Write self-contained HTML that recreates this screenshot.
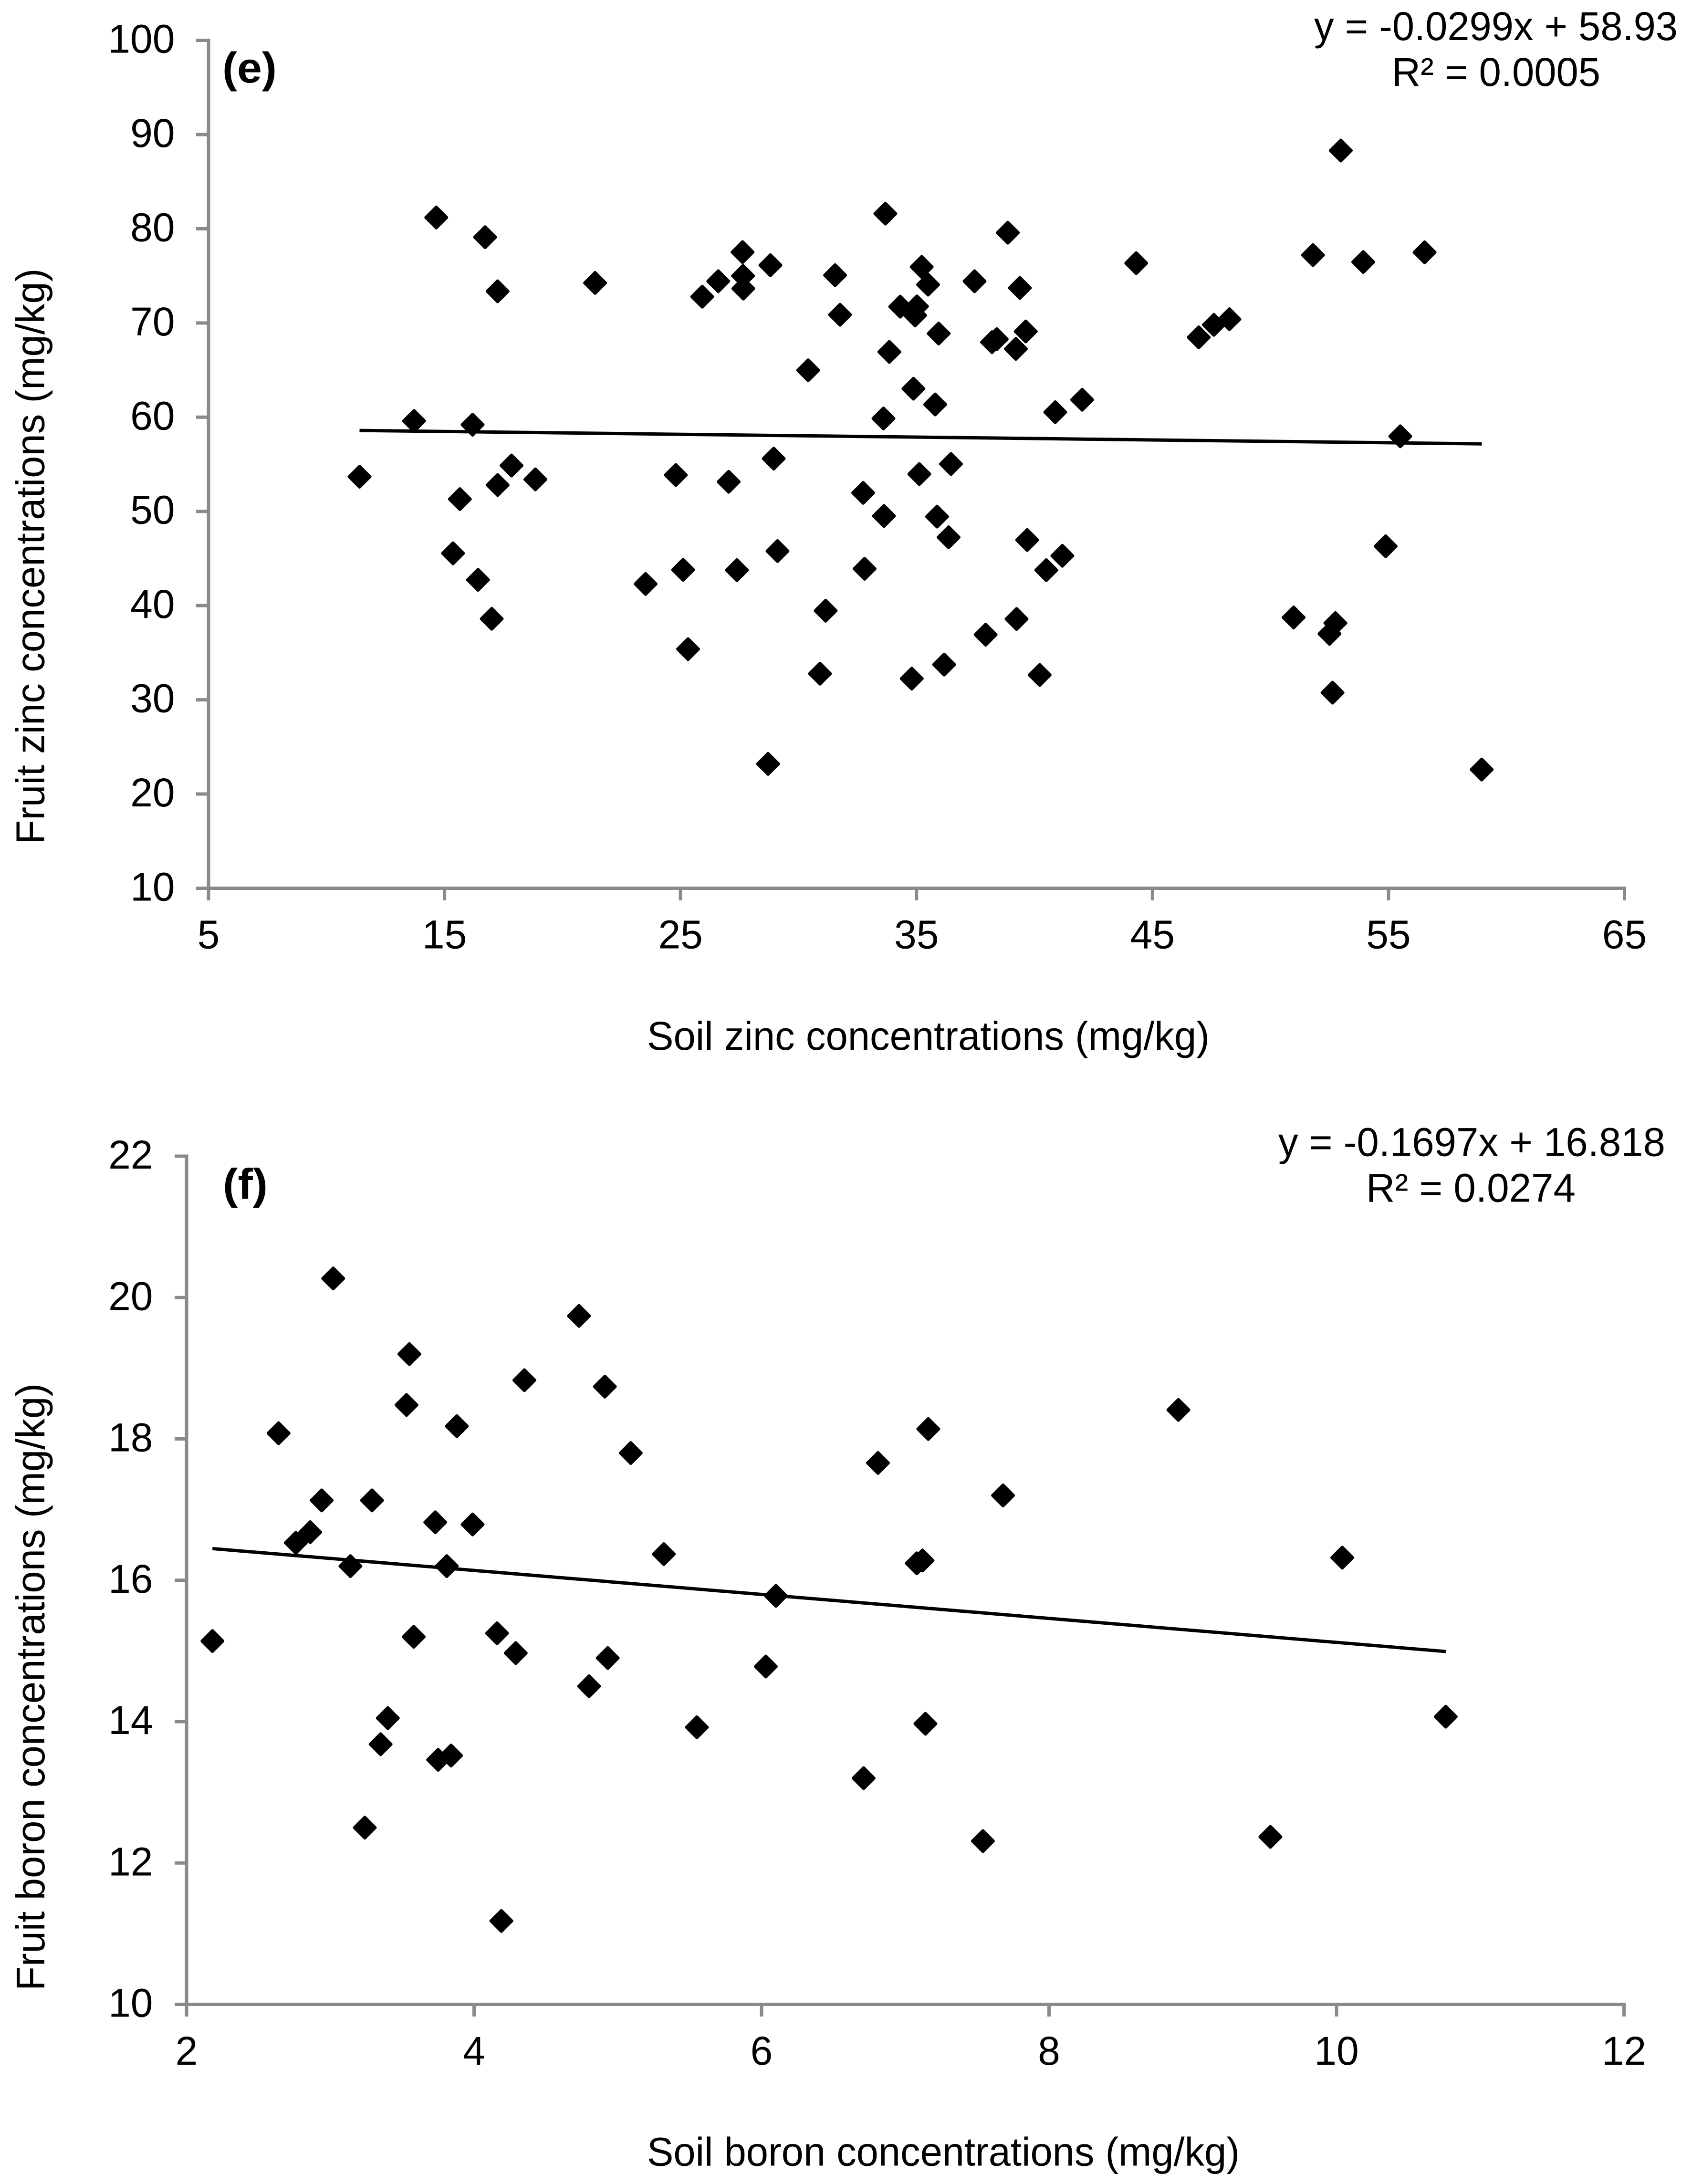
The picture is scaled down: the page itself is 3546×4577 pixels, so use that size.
<!DOCTYPE html>
<html lang="en">
<head>
<meta charset="utf-8">
<title>Soil vs fruit zinc and boron concentrations</title>
<style>
html,body{margin:0;padding:0;background:#fff;}
svg{display:block;}
text{font-family:"Liberation Sans",Arial,sans-serif;font-size:84px;fill:#000;}
.bold{font-weight:bold;font-size:90px;}
</style>
</head>
<body>
<svg id="figure" xmlns="http://www.w3.org/2000/svg" width="3546" height="4577" viewBox="0 0 3546 4577">
  <rect x="0" y="0" width="3546" height="4577" fill="#ffffff"/>
  <g id="panel-e">
    <g id="axes-e"></g>
    <g id="points-e"></g>
    <text class="bold" x="466" y="173" textLength="114" lengthAdjust="spacingAndGlyphs">(e)</text>
    <text x="2754" y="84" textLength="762" lengthAdjust="spacingAndGlyphs">y = -0.0299x + 58.93</text>
    <text x="2917" y="180" textLength="437" lengthAdjust="spacingAndGlyphs">R² = 0.0005</text>
    <text transform="translate(92.5 1769.5) rotate(-90)" textLength="1207" lengthAdjust="spacingAndGlyphs">Fruit zinc concentrations (mg/kg)</text>
    <text x="1356" y="2200" textLength="1179" lengthAdjust="spacingAndGlyphs">Soil zinc concentrations (mg/kg)</text>
  </g>
  <g id="panel-f">
    <g id="axes-f"></g>
    <g id="points-f"></g>
    <text class="bold" x="467" y="2512.5" textLength="94" lengthAdjust="spacingAndGlyphs">(f)</text>
    <text x="2679" y="2422.7" textLength="811" lengthAdjust="spacingAndGlyphs">y = -0.1697x + 16.818</text>
    <text x="2863" y="2518.7" textLength="439" lengthAdjust="spacingAndGlyphs">R² = 0.0274</text>
    <text transform="translate(93 4172) rotate(-90)" textLength="1273" lengthAdjust="spacingAndGlyphs">Fruit boron concentrations (mg/kg)</text>
    <text x="1356" y="4538.7" textLength="1242" lengthAdjust="spacingAndGlyphs">Soil boron concentrations (mg/kg)</text>
  </g>
</svg>
<script>
var zincXTicks = [5, 15, 25, 35, 45, 55, 65];
var zincYTicks = [10, 20, 30, 40, 50, 60, 70, 80, 90, 100];
var zincSoil = [33.68,38.87,27.63,28.81,44.31,35.22,31.55,26.60,27.65,27.66,25.92,35.49,37.46,39.38,31.76,34.31,35.02,34.94,35.94,39.63,38.2,38.4,39.21,33.85,30.41,34.87,35.79,40.88,42.02,33.60,24.80,27.04,28.95,32.74,35.12,36.46,33.62,35.87,36.36,39.69,41.18,40.50,25.11,27.39,29.11,32.80,31.15,25.32,30.91,34.80,36.17,37.93,39.24,40.22,11.40,13.71,14.65,16.72,17.25,21.38,16.19,15.65,17.25,17.84,18.85,15.36,16.42,17.0,23.52,46.96,47.6,48.26,51.8,53.93,56.53,52.98,55.5,54.88,50.98,52.5,52.75,52.63,58.95,28.71];
var zincFruit = [81.60,79.58,77.52,76.13,76.35,75.95,75.07,74.43,75.0,73.65,72.79,74.07,74.43,73.72,70.87,71.73,71.76,70.80,68.88,69.10,67.96,68.28,67.25,66.93,64.98,63.02,61.35,60.53,61.85,59.86,53.86,53.14,55.60,51.97,53.96,55.03,49.52,49.45,47.25,46.96,45.29,43.76,43.80,43.76,45.79,43.91,39.46,35.38,32.78,32.25,33.74,36.91,38.58,32.64,53.68,59.6,81.2,79.1,73.36,74.25,59.2,51.3,52.8,54.87,53.4,45.55,42.74,38.6,42.3,68.47,69.8,70.4,77.2,76.47,77.5,88.3,57.97,46.3,38.74,37.0,38.15,30.76,22.6,23.2];
var zincTrendSlope = -0.0299;
var zincTrendIntercept = 58.93;

var boronXTicks = [2, 4, 6, 8, 10, 12];
var boronYTicks = [10, 12, 14, 16, 18, 20, 22];
var boronSoil = [2.18,2.64,2.76,2.86,2.94,3.02,3.14,3.24,3.29,3.35,3.40,3.53,3.55,3.58,3.73,3.75,3.81,3.84,3.88,3.99,4.16,4.19,4.29,4.35,4.73,4.80,4.91,4.93,5.09,5.32,5.55,6.03,6.10,6.71,6.81,7.08,7.12,7.14,7.16,7.54,7.68,8.90,9.54,10.04,10.76];
var boronFruit = [15.14,18.08,16.53,16.68,17.13,20.27,16.2,12.5,17.13,13.68,14.05,18.48,19.2,15.2,16.82,13.46,16.2,13.52,18.18,16.79,15.25,11.18,14.97,18.83,19.74,14.5,18.74,14.9,17.8,16.37,13.92,14.78,15.78,13.2,17.66,16.24,16.28,13.97,18.14,12.31,17.2,18.41,12.37,16.32,14.07];
var boronTrendSlope = -0.1697;
var boronTrendIntercept = 16.818;

var SVG_NS = 'http://www.w3.org/2000/svg';
var AXIS_COLOR = '#8a8a8a';

function makeScale(d0, d1, r0, r1) {
  return function (v) { return r0 + (v - d0) * (r1 - r0) / (d1 - d0); };
}

function addLine(parent, x1, y1, x2, y2, color, width, name) {
  var el = document.createElementNS(SVG_NS, 'line');
  el.setAttribute('x1', x1);
  el.setAttribute('y1', y1);
  el.setAttribute('x2', x2);
  el.setAttribute('y2', y2);
  el.setAttribute('stroke', color);
  el.setAttribute('stroke-width', width);
  
  
  parent.appendChild(el);
  return el;
}

function addLabel(parent, x, y, anchor, content, name) {
  var el = document.createElementNS(SVG_NS, 'text');
  el.setAttribute('x', x);
  el.setAttribute('y', y);
  el.setAttribute('text-anchor', anchor);
  el.textContent = content;
  
  
  parent.appendChild(el);
}

function addDiamond(parent, cx, cy, name) {
  var h = 22;
  var el = document.createElementNS(SVG_NS, 'polygon');
  el.setAttribute('points', cx + ',' + (cy - h) + ' ' + (cx + h) + ',' + cy + ' ' + cx + ',' + (cy + h) + ' ' + (cx - h) + ',' + cy);
  el.setAttribute('fill', '#000');
  el.setAttribute('stroke', '#000');
  el.setAttribute('stroke-width', '6');
  el.setAttribute('stroke-linejoin', 'round');
  
  
  parent.appendChild(el);
}

function drawAxes(group, sx, sy, xTicks, yTicks, tickLeft, tickBottom, yLabelRight, xLabelBase, prefix) {
  var xMin = xTicks[0], xMax = xTicks[xTicks.length - 1];
  var yMin = yTicks[0], yMax = yTicks[yTicks.length - 1];
  addLine(group, sx(xMin), sy(yMax) - 3.5, sx(xMin), tickBottom, AXIS_COLOR, 7, prefix + '-y-axis-line');
  addLine(group, tickLeft, sy(yMin), sx(xMax) + 3.5, sy(yMin), AXIS_COLOR, 7, prefix + '-x-axis-line');
  xTicks.forEach(function (t) {
    addLine(group, sx(t), sy(yMin), sx(t), tickBottom, AXIS_COLOR, 7, prefix + '-x-tick');
    addLabel(group, sx(t), xLabelBase, 'middle', String(t), prefix + '-x-tick-label');
  });
  yTicks.forEach(function (t) {
    addLine(group, tickLeft, sy(t), sx(xMin), sy(t), AXIS_COLOR, 7, prefix + '-y-tick');
    addLabel(group, yLabelRight, sy(t) + 26, 'end', String(t), prefix + '-y-tick-label');
  });
}

function drawSeries(group, sx, sy, xs, ys, slope, intercept, prefix) {
  var lo = Math.min.apply(null, xs);
  var hi = Math.max.apply(null, xs);
  addLine(group, sx(lo), sy(slope * lo + intercept), sx(hi), sy(slope * hi + intercept), '#000', 7, prefix + '-trend-line');
  xs.forEach(function (v, i) {
    addDiamond(group, sx(v), sy(ys[i]), prefix + '-data-point');
  });
}

var zincX = makeScale(5, 65, 437, 3404.5);
var zincY = makeScale(10, 100, 1861.5, 84.5);
drawAxes(document.getElementById('axes-e'), zincX, zincY, zincXTicks, zincYTicks, 411, 1887, 366.5, 1987.5, 'zinc');
drawSeries(document.getElementById('points-e'), zincX, zincY, zincSoil, zincFruit, zincTrendSlope, zincTrendIntercept, 'zinc');

var boronX = makeScale(2, 12, 391, 3403.5);
var boronY = makeScale(10, 22, 4200.5, 2423);
drawAxes(document.getElementById('axes-f'), boronX, boronY, boronXTicks, boronYTicks, 366, 4226, 320.5, 4326.8, 'boron');
drawSeries(document.getElementById('points-f'), boronX, boronY, boronSoil, boronFruit, boronTrendSlope, boronTrendIntercept, 'boron');
</script>
</body>
</html>
